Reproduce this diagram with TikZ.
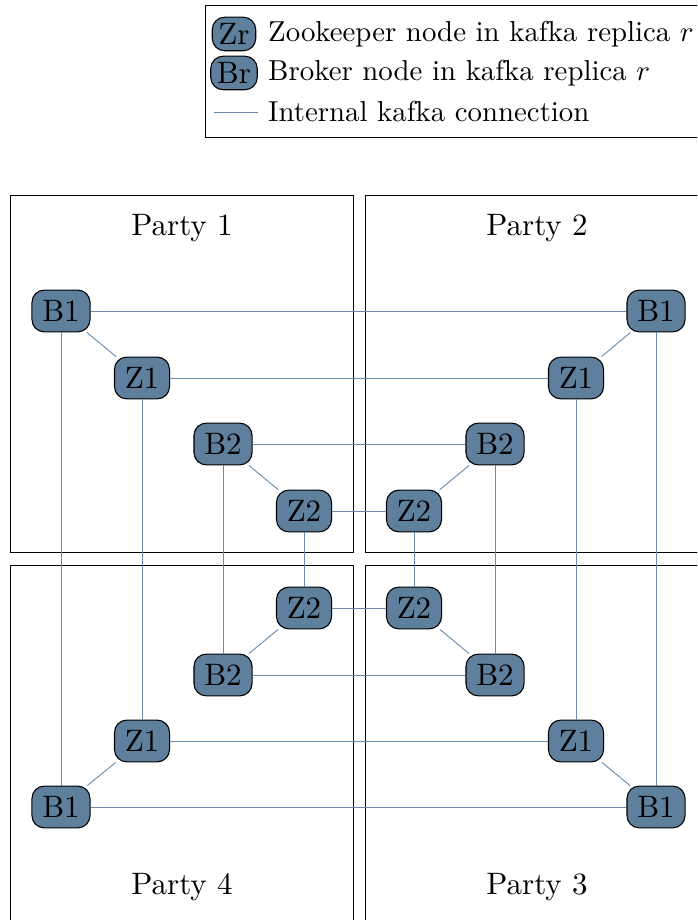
\documentclass[tikz,border=0pt]{standalone}
\usepackage{amsmath, amssymb}
\usepackage{tikz}
\usetikzlibrary{positioning}
\definecolor{kafkablue}{RGB}{94,128,156}
\definecolor{kafkaline}{RGB}{105,140,172}
\tikzset{>=latex}
\tikzset{font=\normalsize}
\tikzset{kafka/.style={draw=black, line width=0.35pt, fill=kafkablue, rounded corners=4pt, inner sep=3.33pt}}
\tikzset{kafkakey/.style={draw=black, line width=0.35pt, fill=kafkablue, rounded corners=4pt, inner sep=2pt}}
\tikzset{keytext/.style={anchor=west, scale=0.93}}
\tikzset{conn/.style={draw=kafkaline, line width=0.3pt}}
\tikzset{partybox/.style={draw=black, line width=0.3pt}}

\begin{document}
\begin{tikzpicture}[x=0.3226pt, y=-0.3226pt]
  \useasboundingbox (0,0) rectangle (697,920);
  \clip (0,0) rectangle (697,920);

  % legend
  \draw[partybox] (205,5) rectangle (720,137);
  \node[kafkakey] (keyz) at (234,34) {Zr};
  \node[keytext] (keyztext) at (258,34) {Zookeeper node in kafka replica $r$};
  \node[kafkakey] (keyb) at (234,73) {Br};
  \node[keytext] (keybtext) at (258,73) {Broker node in kafka replica $r$};
  \coordinate (keyl1) at (214,112);
  \coordinate (keyl2) at (258,112);
  \draw[conn] (keyl1) -- (keyl2);
  \node[keytext] (keyltext) at (258,112) {Internal kafka connection};

  % parties
  \draw[partybox] (10,195) rectangle (353,552);
  \draw[partybox] (365,195) rectangle (720,552);
  \draw[partybox] (10,565) rectangle (353,940);
  \draw[partybox] (365,565) rectangle (720,940);
  \node (party1) at (182,228) {Party 1};
  \node (party2) at (537,228) {Party 2};
  \node (party4) at (182,887) {Party 4};
  \node (party3) at (537,887) {Party 3};

  % kafka nodes
  \node[kafka] (p1b1) at (61,311) {B1};
  \node[kafka] (p1z1) at (142,378) {Z1};
  \node[kafka] (p1b2) at (223,444) {B2};
  \node[kafka] (p1z2) at (304,511) {Z2};

  \node[kafka] (p2b1) at (656,311) {B1};
  \node[kafka] (p2z1) at (576,378) {Z1};
  \node[kafka] (p2b2) at (495,444) {B2};
  \node[kafka] (p2z2) at (414,511) {Z2};

  \node[kafka] (p3z2) at (414,608) {Z2};
  \node[kafka] (p3b2) at (495,675) {B2};
  \node[kafka] (p3z1) at (576,741) {Z1};
  \node[kafka] (p3b1) at (656,807) {B1};

  \node[kafka] (p4z2) at (304,608) {Z2};
  \node[kafka] (p4b2) at (223,675) {B2};
  \node[kafka] (p4z1) at (142,741) {Z1};
  \node[kafka] (p4b1) at (61,807) {B1};

  % connections inside a party
  \draw[conn] (p1b1) -- (p1z1);
  \draw[conn] (p1b2) -- (p1z2);
  \draw[conn] (p2b1) -- (p2z1);
  \draw[conn] (p2b2) -- (p2z2);
  \draw[conn] (p3b1) -- (p3z1);
  \draw[conn] (p3b2) -- (p3z2);
  \draw[conn] (p4b1) -- (p4z1);
  \draw[conn] (p4b2) -- (p4z2);

  % horizontal
  \draw[conn] (p1b1) -- (p2b1);
  \draw[conn] (p1z1) -- (p2z1);
  \draw[conn] (p1b2) -- (p2b2);
  \draw[conn] (p1z2) -- (p2z2);
  \draw[conn] (p4b1) -- (p3b1);
  \draw[conn] (p4z1) -- (p3z1);
  \draw[conn] (p4b2) -- (p3b2);
  \draw[conn] (p4z2) -- (p3z2);

  % vertical
  \draw[conn] (p1b1) -- (p4b1);
  \draw[conn] (p1z1) -- (p4z1);
  \draw[conn] (p1b2) -- (p4b2);
  \draw[conn] (p1z2) -- (p4z2);
  \draw[conn] (p2b1) -- (p3b1);
  \draw[conn] (p2z1) -- (p3z1);
  \draw[conn] (p2b2) -- (p3b2);
  \draw[conn] (p2z2) -- (p3z2);
\end{tikzpicture}
\end{document}
